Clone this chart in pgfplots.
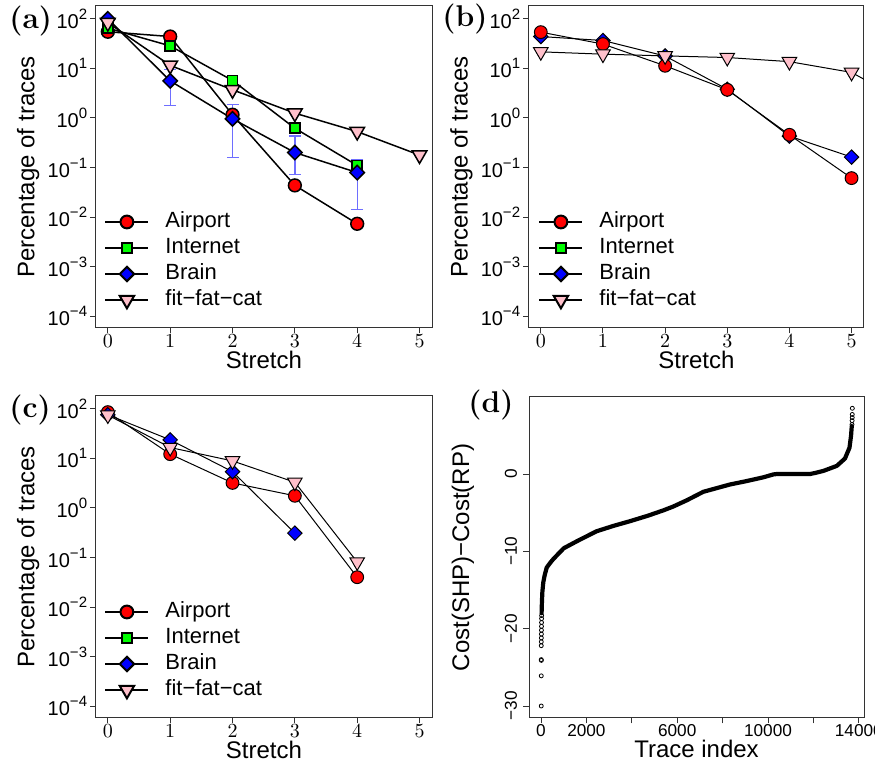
\documentclass[border=0pt]{standalone}
\usepackage{fontspec}
\usepackage{pgfplots}
\pgfplotsset{compat=1.18}
\newfontfamily\arial{Liberation Sans}
\definecolor{rred}{RGB}{255,0,0}
\definecolor{rgreen}{RGB}{0,255,0}
\definecolor{rblue}{RGB}{0,0,255}
\definecolor{rpink}{RGB}{255,192,203}
\definecolor{errblue}{RGB}{110,110,255}
\newcommand\tl[1]{10\raisebox{0.85ex}{\fontsize{7.5}{8}\selectfont #1}}

\pgfplotsset{
  myrbox/.style={
    scale only axis, anchor=south west,
    axis line style={black!80, line width=0.5pt},
    tick style={black!80, line width=0.5pt},
    tick align=outside, tick pos=left, major tick length=2.75pt,
    xminorticks=false, yminorticks=false,
    tick label style={font=\arial\fontsize{10}{12}\selectfont},
    label style={font=\arial\fontsize{12}{14}\selectfont},
    xticklabel style={inner sep=0.5pt},
    yticklabel style={inner sep=1.5pt},
  },
  mystretch/.style={
    myrbox, width=168pt, height=161pt,
    ymin=5.75e-5, ymax=182, xmin=-0.19, xmax=5.2,
    xtick={0,1,2,3,4,5}, ytick={1e-4,1e-3,1e-2,1e-1,1,10,100},
    yticklabels={\tl{−4},\tl{−3},\tl{−2},\tl{−1},\tl{0},\tl{1},\tl{2}},
    xlabel={Stretch}, ylabel={Percentage of traces},
    xlabel style={at={(axis description cs:0.5,-0.099)}, anchor=center},
    ylabel style={at={(axis description cs:-0.202,0.5)}, anchor=center},
    legend style={draw=none, fill=none, at={(axis description cs:0.006,0.374)},
      anchor=north west, font=\arial\fontsize{11}{12}\selectfont,
      nodes={inner sep=0pt, text height=8pt, text depth=2pt}, row sep=3pt},
    legend cell align=left,
    legend image code/.code={
      \draw[mark repeat=2, mark phase=2] plot coordinates {(0pt,0pt)(10.75pt,0pt)(21.5pt,0pt)};
      \node[draw=none, fill=none, inner sep=0pt, minimum size=0pt] at (29.5pt,0pt) {};},
  },
  mcirc/.style={mark=*, mark size=3.2pt, every mark/.append style={fill=rred, draw=black}},
  msq/.style={mark=square*, mark size=2.5pt, every mark/.append style={fill=rgreen, draw=black}},
  mdia/.style={mark=square*, mark size=2.55pt, every mark/.append style={fill=rblue, draw=black, rotate=45}},
  mtri/.style={mark=triangle*, mark size=4.2pt, every mark/.append style={fill=rpink, draw=black, rotate=180}},
  lw/.style={line width=#1, every mark/.append style={line width=#1}},
}

\begin{document}
\begin{tikzpicture}
\useasboundingbox (0pt,0pt) rectangle (437.5pt,-382pt);

% (a)
\begin{semilogyaxis}[mystretch, at={(48pt,-164pt)}]
\addlegendimage{black, lw=1pt, mcirc}
\addlegendimage{black, lw=1pt, msq}
\addlegendimage{black, lw=1pt, mdia}
\addlegendimage{black, lw=1pt, mtri}
\legend{Airport,Internet,Brain,fit−fat−cat}
\addplot[black, lw=0.75pt, mcirc, forget plot]
  coordinates {(0,55)(1,44)(2,1.16)(3,0.0435)(4,0.0073)};
\addplot[black, lw=0.75pt, msq, forget plot]
  coordinates {(0,65)(1,28.5)(2,5.7)(3,0.62)(4,0.11)};
\addplot[errblue, line width=0.65pt, mark=-, mark size=3pt, unbounded coords=jump, forget plot]
  coordinates {(1,1.8)(1,9.4)(1,nan)(2,0.157)(2,1.87)(2,nan)(3,0.072)(3,0.43)(3,nan)(4,0.014)(4,0.145)};
\addplot[black, lw=0.75pt, mdia, forget plot]
  coordinates {(0,100)(1,5.6)(2,0.96)(3,0.20)(4,0.079)};
\addplot[black, lw=0.75pt, mtri, forget plot]
  coordinates {(0,84)(1,11.5)(2,3.7)(3,1.25)(4,0.53)(5,0.178)};
\end{semilogyaxis}

% (b)
\begin{semilogyaxis}[mystretch, at={(264.5pt,-164pt)}, width=167.5pt,
  legend style={at={(axis description cs:0.009,0.374)}}]
\addlegendimage{black, lw=1pt, mcirc}
\addlegendimage{black, lw=1pt, msq}
\addlegendimage{black, lw=1pt, mdia}
\addlegendimage{black, lw=1pt, mtri}
\legend{Airport,Internet,Brain,fit−fat−cat}
\addplot[black, lw=0.5pt, mdia, forget plot]
  coordinates {(0,44)(1,36.6)(2,17.8)(3,3.8)(4,0.43)(5,0.162)};
\addplot[black, lw=0.5pt, mcirc, forget plot]
  coordinates {(0,54)(1,31)(2,11.3)(3,3.7)(4,0.457)(5,0.061)};
\addplot[black, lw=0.5pt, mtri, forget plot]
  coordinates {(0,21.6)(1,19.4)(2,17.9)(3,16.6)(4,13.7)(5,8.3)(6,1.7)};
\end{semilogyaxis}

% (c)
\begin{semilogyaxis}[mystretch, at={(48pt,-359pt)}]
\addlegendimage{black, lw=1pt, mcirc}
\addlegendimage{black, lw=1pt, msq}
\addlegendimage{black, lw=1pt, mdia}
\addlegendimage{black, lw=1pt, mtri}
\legend{Airport,Internet,Brain,fit−fat−cat}
\addplot[black, lw=0.5pt, mcirc, forget plot]
  coordinates {(0,86)(1,12.2)(2,3.2)(3,1.76)(4,0.040)};
\addplot[black, lw=0.5pt, mdia, forget plot]
  coordinates {(0,76)(1,23.7)(2,5.4)(3,0.31)};
\addplot[black, lw=0.5pt, mtri, forget plot]
  coordinates {(0,75)(1,16.6)(2,8.9)(3,3.3)(4,0.081)};
\end{semilogyaxis}

% (d)
\begin{axis}[myrbox, at={(264.5pt,-359pt)}, width=167.5pt, height=160.5pt,
  xmin=-530, xmax=14229, ymin=-31.55, ymax=9.96,
  scaled x ticks=false,
  tick label style={font=\arial\fontsize{8.6}{10}\selectfont},
  xtick={0,2000,4000,6000,8000,10000,12000,14000},
  xticklabels={0,2000,,6000,,10000,,14000},
  ytick={-30,-20,-10,0}, yticklabels={−30,−20,−10,0},
  yticklabel style={rotate=90, anchor=south, inner sep=3pt},
  xlabel={Trace index}, ylabel={Cost(SHP)−Cost(RP)},
  xlabel style={at={(axis description cs:0.5,-0.096)}, anchor=center},
  ylabel style={at={(axis description cs:-0.197,0.5)}, anchor=center}]
\addplot[black, line width=2.1pt, line join=round, line cap=round] coordinates {
  (25,-18.0)(40,-16.5)(60,-15.2)(100,-14.0)(160,-13.1)(250,-12.1)(400,-11.5)
  (540,-11.0)(1000,-9.6)(1640,-8.6)(2450,-7.4)(3200,-6.7)(3920,-6.1)(4700,-5.4)
  (5390,-4.7)(5830,-4.2)(6420,-3.4)(7150,-2.3)(8330,-1.35)(9000,-0.95)(9790,-0.43)
  (10240,-0.05)(10400,0)(11850,0)(12100,0.15)(12440,0.4)(13030,1.05)(13390,2.0)
  (13590,3.4)(13660,5.0)(13690,6.2)};
\addplot[only marks, mark=o, mark size=1pt, black, mark options={line width=0.4pt}] coordinates {
  (10,-30.0)(10,-26.1)(10,-24.0)(14,-24.1)(10,-22.2)(12,-21.7)(14,-21.2)(16,-20.7)
  (18,-20.2)(20,-19.7)(22,-19.2)(24,-18.7)(26,-18.3)
  (13700,6.4)(13705,6.9)(13710,7.3)(13712,7.7)(13715,8.5)};
\end{axis}

\node[anchor=west, inner sep=0pt] at (4.5pt,-10.5pt) {\fontsize{15}{15}\selectfont\bfseries (a)};
\node[anchor=west, inner sep=0pt] at (221pt,-9.5pt) {\fontsize{15}{15}\selectfont\bfseries (b)};
\node[anchor=west, inner sep=0pt] at (4.5pt,-205pt) {\fontsize{15}{15}\selectfont\bfseries (c)};
\node[anchor=west, inner sep=0pt] at (234pt,-202.5pt) {\fontsize{15}{15}\selectfont\bfseries (d)};
\end{tikzpicture}
\end{document}
